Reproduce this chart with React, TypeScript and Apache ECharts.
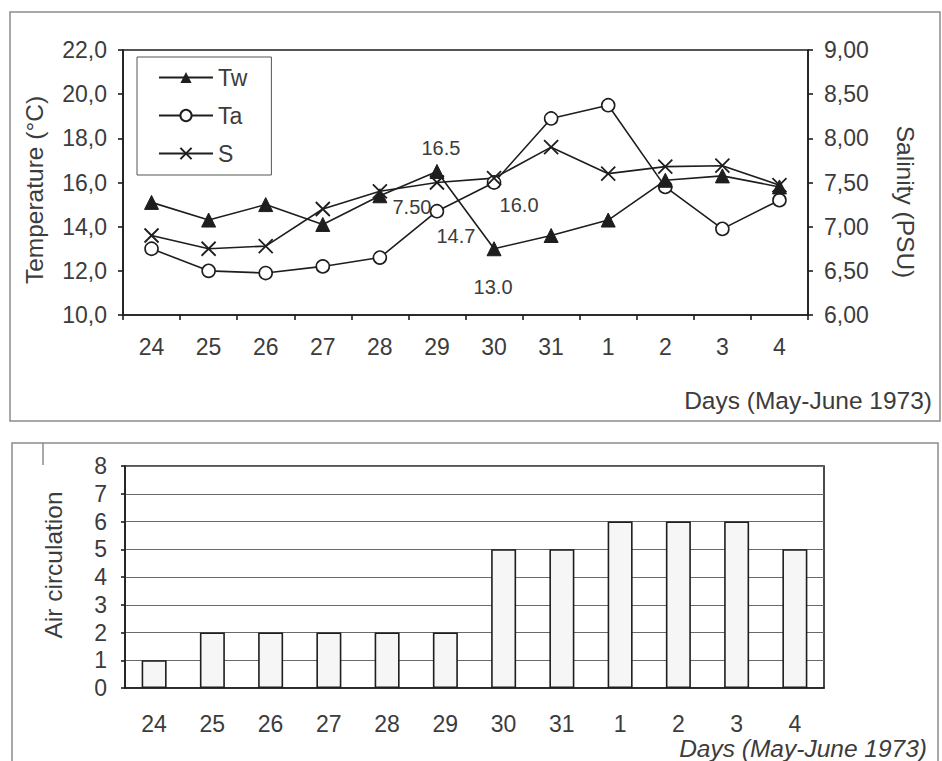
import React, { useEffect, useRef } from 'react';
import * as echarts from 'echarts';

// Observation days, 24 May – 4 June 1973
const days = ['24', '25', '26', '27', '28', '29', '30', '31', '1', '2', '3', '4'];

// Water temperature Tw (°C)
const waterTemp = [15.1, 14.3, 15.0, 14.1, 15.4, 16.5, 13.0, 13.6, 14.3, 16.1, 16.3, 15.8];
// Air temperature Ta (°C)
const airTemp = [13.0, 12.0, 11.9, 12.2, 12.6, 14.7, 16.0, 18.9, 19.5, 15.8, 13.9, 15.2];
// Salinity S (PSU)
const salinity = [6.9, 6.75, 6.78, 7.2, 7.4, 7.5, 7.55, 7.9, 7.6, 7.68, 7.69, 7.47];
// Air circulation index
const airCirculation = [1, 2, 2, 2, 2, 2, 5, 5, 6, 6, 6, 5];

// Axis ranges
const tempRange = { min: 10, max: 22, step: 2 };
const salRange = { min: 6, max: 9, step: 0.5 };
const circRange = { min: 0, max: 8, step: 1 };

const FONT = "'Liberation Sans', Arial, Helvetica, sans-serif";
const INK = '#1e1e1e';
const TEXT = '#3c3c3c';
const FRAME = '#8c8c8c';

// Value annotations: day index -> label offset from the marker centre (px)
const twNotes: Record<number, [number, number]> = { 5: [4, -23], 6: [-1, 38] };
const taNotes: Record<number, [number, number]> = { 5: [19, 25], 6: [25, 22] };
const sNotes: Record<number, [number, number]> = { 5: [-25, 24] };

function annotate(values: number[], notes: Record<number, [number, number]>, digits: number) {
  return values.map((v, i) =>
    notes[i]
      ? {
          value: v,
          label: {
            show: true,
            position: 'inside',
            offset: notes[i],
            formatter: () => v.toFixed(digits),
            color: TEXT,
            fontSize: 20,
            fontFamily: FONT,
          },
        }
      : v
  );
}

const comma = (digits: number) => (v: number) => v.toFixed(digits).replace('.', ',');

export default function App() {
  const ref = useRef<HTMLDivElement>(null);

  useEffect(() => {
    const chart = echarts.init(ref.current!, null, { renderer: 'svg' });
    const crossSymbol = 'path://M0,0L10,10M10,0L0,10';

    const axisText = { color: TEXT, fontSize: 23, fontFamily: FONT };
    const lineStyle = { color: INK, width: 1.6 };
    const titleStyle = { fill: TEXT, fontSize: 24.5, fontFamily: FONT, verticalAlign: 'middle' };

    chart.setOption({
      animation: false,
      backgroundColor: '#ffffff',
      textStyle: { fontFamily: FONT },
      grid: [
        { left: 123, top: 50, width: 685, height: 265, show: true, borderColor: INK, borderWidth: 1.6, backgroundColor: 'transparent' },
        { left: 125, top: 466, width: 699, height: 222, show: true, borderColor: INK, borderWidth: 1.6, backgroundColor: 'transparent' },
      ],
      legend: {
        orient: 'vertical',
        left: 137,
        top: 57,
        itemWidth: 54,
        itemHeight: 14,
        itemGap: 15,
        padding: [9, 24, 10, 21],
        borderColor: '#555',
        borderWidth: 1,
        textStyle: { color: TEXT, fontSize: 23, fontFamily: FONT, lineHeight: 22 },
        data: ['Tw', 'Ta', 'S'],
      },
      xAxis: [
        {
          type: 'category',
          gridIndex: 0,
          data: days,
          boundaryGap: true,
          axisLine: { lineStyle },
          axisTick: { show: true, length: 5, lineStyle },
          axisLabel: { ...axisText, margin: 20 },
        },
        {
          type: 'category',
          gridIndex: 1,
          data: days,
          boundaryGap: true,
          axisLine: { lineStyle },
          axisTick: { show: false },
          axisLabel: { ...axisText, margin: 24 },
        },
      ],
      yAxis: [
        {
          type: 'value',
          gridIndex: 0,
          min: tempRange.min,
          max: tempRange.max,
          interval: tempRange.step,
          axisLine: { show: true, lineStyle },
          axisTick: { show: true, length: 5, lineStyle },
          splitLine: { show: false },
          axisLabel: { ...axisText, margin: 16, formatter: comma(1) },
        },
        {
          type: 'value',
          gridIndex: 0,
          position: 'right',
          min: salRange.min,
          max: salRange.max,
          interval: salRange.step,
          axisLine: { show: true, lineStyle },
          axisTick: { show: true, length: 5, lineStyle },
          splitLine: { show: false },
          axisLabel: { ...axisText, margin: 16, formatter: comma(2) },
        },
        {
          type: 'value',
          gridIndex: 1,
          min: circRange.min,
          max: circRange.max,
          interval: circRange.step,
          axisLine: { show: true, lineStyle },
          axisTick: { show: true, length: 4, lineStyle },
          splitLine: { show: true, lineStyle: { color: '#6a6a6a', width: 1 } },
          axisLabel: { ...axisText, margin: 18 },
        },
      ],
      series: [
        {
          name: 'Tw',
          type: 'line',
          xAxisIndex: 0,
          yAxisIndex: 0,
          data: annotate(waterTemp, twNotes, 1),
          symbol: 'triangle',
          symbolSize: 14,
          lineStyle,
          itemStyle: { color: INK, borderColor: INK },
          z: 4,
        },
        {
          name: 'Ta',
          type: 'line',
          xAxisIndex: 0,
          yAxisIndex: 0,
          data: annotate(airTemp, taNotes, 1),
          symbol: 'circle',
          symbolSize: 13,
          lineStyle,
          itemStyle: { color: '#ffffff', borderColor: INK, borderWidth: 1.6 },
          z: 3,
        },
        {
          name: 'S',
          type: 'line',
          xAxisIndex: 0,
          yAxisIndex: 1,
          data: annotate(salinity, sNotes, 2),
          symbol: crossSymbol,
          symbolSize: 14,
          lineStyle,
          itemStyle: { color: 'transparent', borderColor: INK, borderWidth: 1.8 },
          z: 3,
        },
        {
          name: 'Air circulation',
          type: 'bar',
          xAxisIndex: 1,
          yAxisIndex: 2,
          data: airCirculation,
          barWidth: 25,
          itemStyle: { color: '#f6f6f6', borderColor: INK, borderWidth: 1.6 },
        },
      ],
      graphic: [
        // panel frames
        { type: 'rect', shape: { x: 10, y: 12, width: 930, height: 409 }, style: { fill: 'none', stroke: FRAME, lineWidth: 1.5 }, silent: true },
        { type: 'polyline', shape: { points: [[12, 775], [12, 443], [938, 443], [938, 775]] }, style: { fill: 'none', stroke: FRAME, lineWidth: 1.5 }, silent: true },
        { type: 'line', shape: { x1: 43, y1: 443, x2: 43, y2: 465 }, style: { stroke: FRAME, lineWidth: 1.5 }, silent: true },
        // axis titles
        { type: 'text', x: 34, y: 190, rotation: Math.PI / 2, style: { ...titleStyle, text: 'Temperature (°C)', align: 'center' } },
        { type: 'text', x: 905, y: 202, rotation: -Math.PI / 2, style: { ...titleStyle, text: 'Salinity (PSU)', align: 'center' } },
        { type: 'text', x: 932, y: 400, style: { ...titleStyle, text: 'Days (May-June 1973)', align: 'right' } },
        { type: 'text', x: 53, y: 565, rotation: Math.PI / 2, style: { ...titleStyle, text: 'Air circulation', align: 'center' } },
        { type: 'text', x: 927, y: 748, style: { ...titleStyle, text: 'Days (May-June 1973)', fontStyle: 'italic', align: 'right' } },
      ],
    });

    return () => chart.dispose();
  }, []);

  return (
    <div
      ref={ref}
      style={{ position: 'fixed', left: 0, top: 0, width: 942, height: 761, background: '#ffffff' }}
    />
  );
}
